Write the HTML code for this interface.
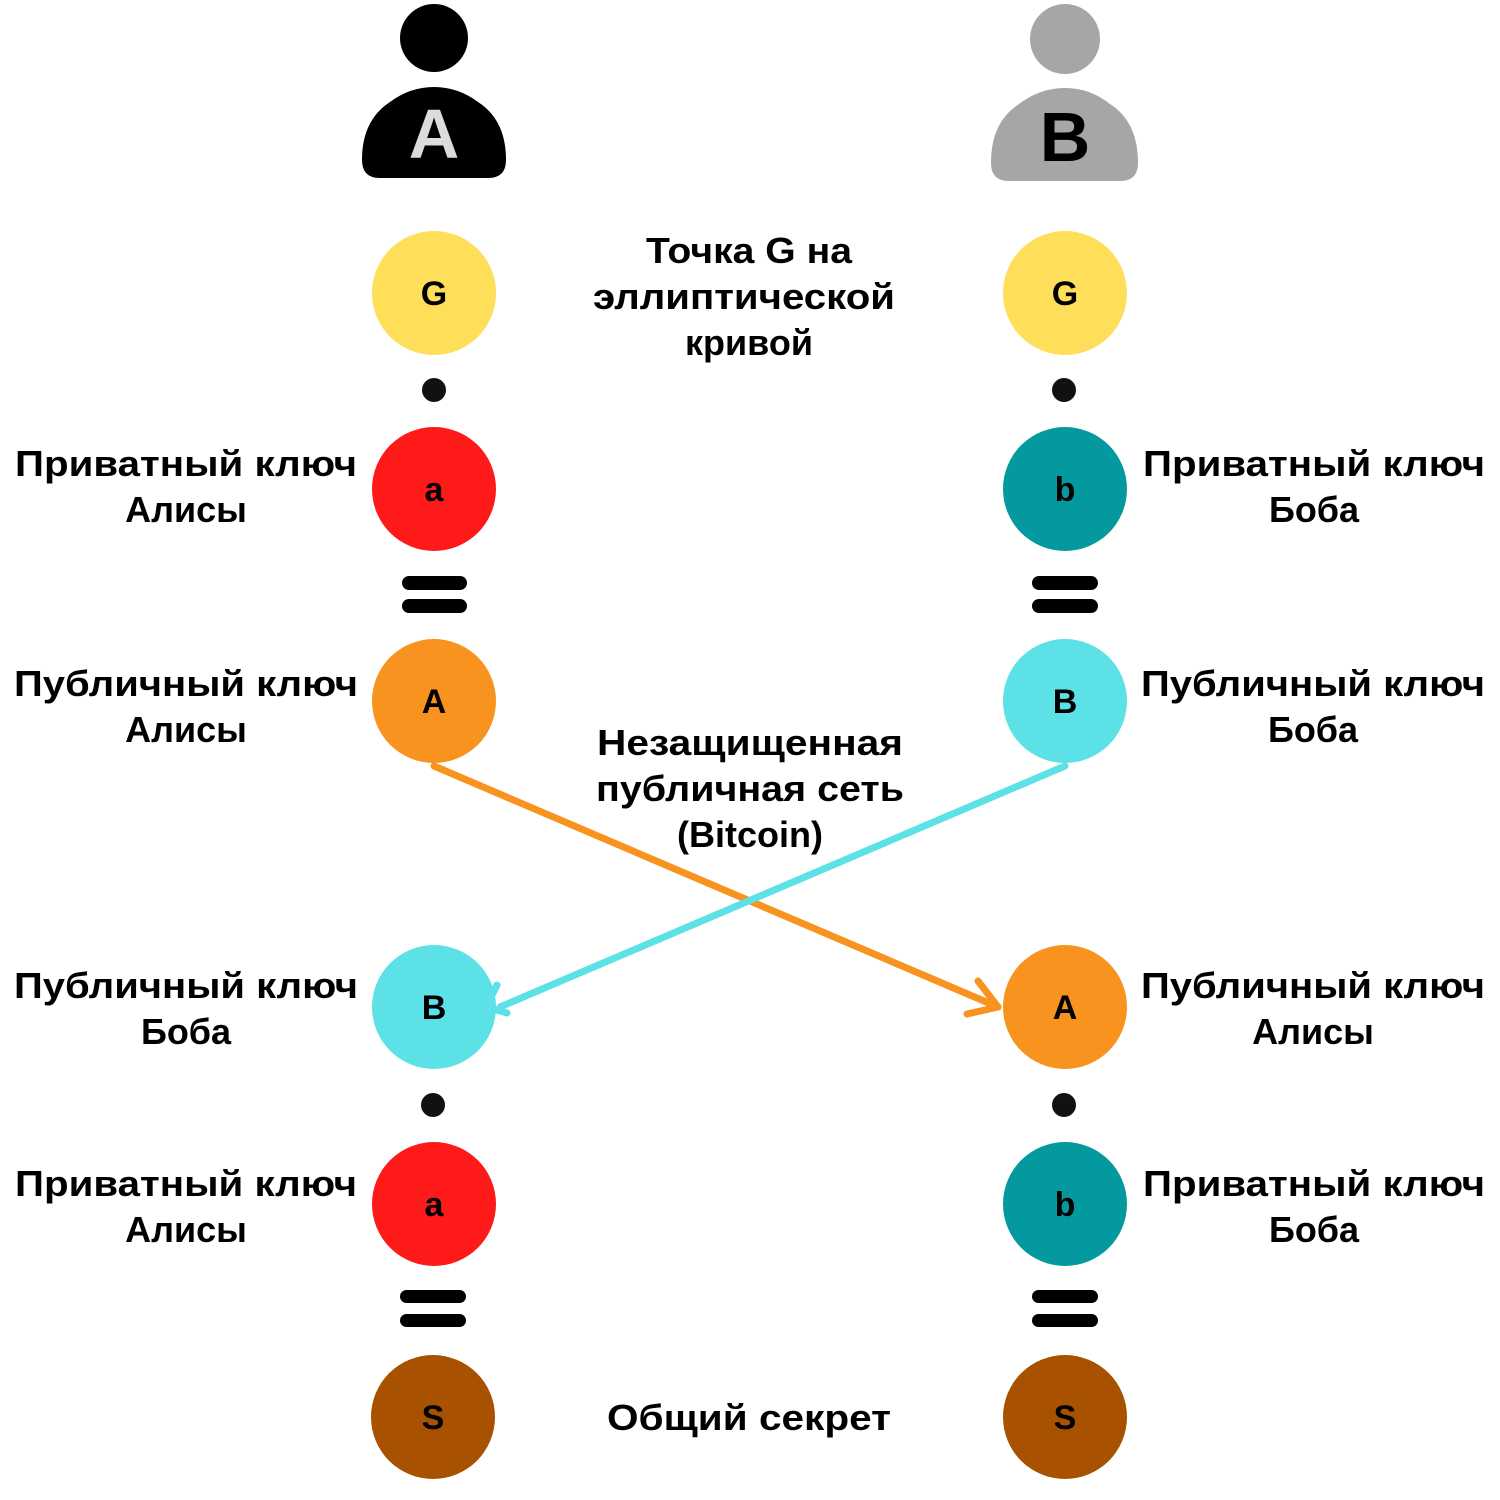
<!DOCTYPE html>
<html><head><meta charset="utf-8"><style>html,body{margin:0;padding:0;background:#fff}svg{display:block}</style></head>
<body>
<svg width="1500" height="1500" viewBox="0 0 1500 1500" xmlns="http://www.w3.org/2000/svg" font-family="'Liberation Sans', 'DejaVu Sans', sans-serif" font-weight="bold">
<rect width="1500" height="1500" fill="#fff"/>
<!-- Person A -->
<circle cx="434" cy="38" r="34" fill="#000"/>
<path d="M380,178 Q362,178 362,160 Q362,120 390,102 Q410,87 434,87 Q458,87 478,102 Q506,120 506,160 Q506,178 488,178 Z" fill="#000"/>
<text x="434" y="158" font-size="70" text-anchor="middle" fill="#dcdcdc">A</text>
<!-- Person B -->
<circle cx="1065" cy="39" r="35" fill="#a6a6a6"/>
<path d="M1009,181 Q991,181 991,163 Q991,122 1019,104 Q1040,88 1065,88 Q1090,88 1110,104 Q1138,122 1138,163 Q1138,181 1120,181 Z" fill="#a6a6a6"/>
<text x="1065" y="161" font-size="70" text-anchor="middle" fill="#000">B</text>

<!-- arrows -->
<g stroke-width="7" stroke-linecap="round" fill="none">
<line x1="434" y1="766" x2="998" y2="1007" stroke="#f7931e"/>
<polyline points="978,981 998,1007 967,1014" stroke="#f7931e" stroke-linejoin="round"/>
<line x1="1065" y1="766" x2="500" y2="1007" stroke="#5ce1e6"/>
<polyline points="497,985 486,1007 507,1013" stroke="#5ce1e6" stroke-linejoin="round"/>
</g>

<!-- circles -->
<g font-size="34" text-anchor="middle" fill="#000">
<circle cx="434" cy="293" r="62" fill="#ffde59"/><text x="434" y="305">G</text>
<circle cx="1065" cy="293" r="62" fill="#ffde59"/><text x="1065" y="305">G</text>
<circle cx="434" cy="489" r="62" fill="#ff1a1a"/><text x="434" y="501">a</text>
<circle cx="1065" cy="489" r="62" fill="#04999e"/><text x="1065" y="501">b</text>
<circle cx="434" cy="701" r="62" fill="#f7931e"/><text x="434" y="713">A</text>
<circle cx="1065" cy="701" r="62" fill="#5ce1e6"/><text x="1065" y="713">B</text>
<circle cx="434" cy="1007" r="62" fill="#5ce1e6"/><text x="434" y="1019">B</text>
<circle cx="1065" cy="1007" r="62" fill="#f7931e"/><text x="1065" y="1019">A</text>
<circle cx="434" cy="1204" r="62" fill="#ff1a1a"/><text x="434" y="1216">a</text>
<circle cx="1065" cy="1204" r="62" fill="#04999e"/><text x="1065" y="1216">b</text>
<circle cx="433" cy="1417" r="62" fill="#a85100"/><text x="433" y="1429">S</text>
<circle cx="1065" cy="1417" r="62" fill="#a85100"/><text x="1065" y="1429">S</text>
</g>

<!-- dots -->
<g fill="#111">
<circle cx="434" cy="390" r="12"/><circle cx="1064" cy="390" r="12"/>
<circle cx="433" cy="1105" r="12"/><circle cx="1064" cy="1105" r="12"/>
</g>
<!-- equals -->
<g fill="#000">
<rect x="402" y="576" width="65" height="14" rx="7"/><rect x="402" y="599" width="65" height="14" rx="7"/>
<rect x="1032" y="576" width="66" height="14" rx="7"/><rect x="1032" y="599" width="66" height="14" rx="7"/>
<rect x="400" y="1290" width="66" height="13" rx="6.5"/><rect x="400" y="1314" width="66" height="13" rx="6.5"/>
<rect x="1032" y="1290" width="66" height="13" rx="6.5"/><rect x="1032" y="1314" width="66" height="13" rx="6.5"/>
</g>

<!-- labels -->
<g font-size="36" text-anchor="middle" fill="#000">
<text x="186" y="476" textLength="342" lengthAdjust="spacingAndGlyphs">Приватный ключ</text>
<text x="186" y="522">Алисы</text>
<text x="1314" y="476" textLength="342" lengthAdjust="spacingAndGlyphs">Приватный ключ</text>
<text x="1314" y="522">Боба</text>
<text x="186" y="696" textLength="344" lengthAdjust="spacingAndGlyphs">Публичный ключ</text>
<text x="186" y="742">Алисы</text>
<text x="1313" y="696" textLength="344" lengthAdjust="spacingAndGlyphs">Публичный ключ</text>
<text x="1313" y="742">Боба</text>
<text x="186" y="998" textLength="344" lengthAdjust="spacingAndGlyphs">Публичный ключ</text>
<text x="186" y="1044">Боба</text>
<text x="1313" y="998" textLength="344" lengthAdjust="spacingAndGlyphs">Публичный ключ</text>
<text x="1313" y="1044">Алисы</text>
<text x="186" y="1196" textLength="342" lengthAdjust="spacingAndGlyphs">Приватный ключ</text>
<text x="186" y="1242">Алисы</text>
<text x="1314" y="1196" textLength="342" lengthAdjust="spacingAndGlyphs">Приватный ключ</text>
<text x="1314" y="1242">Боба</text>

<text x="749" y="263" textLength="206" lengthAdjust="spacingAndGlyphs">Точка G на</text>
<text x="744" y="309" textLength="302" lengthAdjust="spacingAndGlyphs">эллиптической</text>
<text x="749" y="355">кривой</text>
<text x="750" y="755" textLength="306" lengthAdjust="spacingAndGlyphs">Незащищенная</text>
<text x="750" y="801" textLength="308" lengthAdjust="spacingAndGlyphs">публичная сеть</text>
<text x="750" y="847">(Bitcoin)</text>
<text x="749" y="1430" textLength="284" lengthAdjust="spacingAndGlyphs">Общий секрет</text>
</g>
</svg>
</body></html>
